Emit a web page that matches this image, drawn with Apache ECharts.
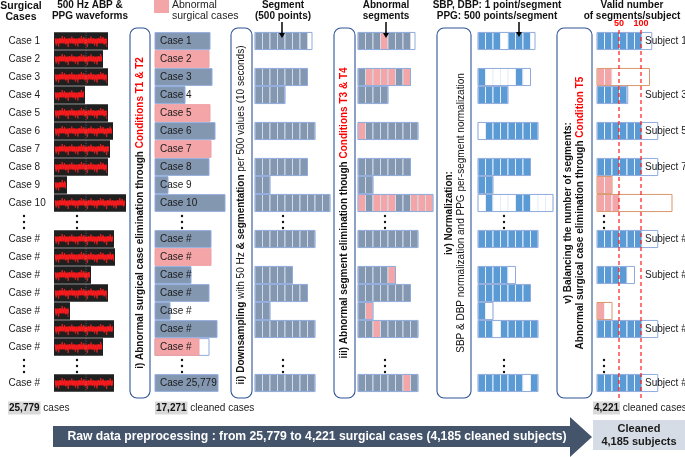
<!DOCTYPE html>
<html><head><meta charset="utf-8">
<script src="https://cdn.jsdelivr.net/npm/echarts@6/dist/echarts.min.js"></script>
<style>html,body{margin:0;padding:0;background:#fff}#c{width:685px;height:457px}</style>
</head><body><div id="c"></div>
<script>
// ---------------- DATA ----------------
// row index of each surgical case line (rows 10 and 18 hold the ellipses)
const caseRows = [0,1,2,3,4,5,6,7,8,9,11,12,13,14,15,16,17,19];
const caseNames = ['Case 1','Case 2','Case 3','Case 4','Case 5','Case 6','Case 7','Case 8','Case 9','Case 10',
  'Case #','Case #','Case #','Case #','Case #','Case #','Case #','Case #'];
// relative recording length of each raw waveform
const waveLength = [54,49,54,31,54,59,56,54,13,72,60,61,37,54,16,60,49,60];
// step i) screened cases
const screenNames = ['Case 1','Case 2','Case 3','Case 4','Case 5','Case 6','Case 7','Case 8','Case 9','Case 10',
  'Case #','Case #','Case #','Case #','Case #','Case #','Case #','Case 25,779'];
const screenLength = [55,54,57,30,55,60,56,54,13,70,56,56,36,54,15,62,44,63];
const screenCapacity = [55,54,57,30,55,60,56,54,13,70,56,56,36,54,15,62,54,63];
const screenAbnormal = [0,1,0,0,1,0,1,0,0,0,0,1,0,0,0,0,1,0];
// steps ii)-iv) segments
const segRows = [0,2,3,5,7,8,9,11,13,14,15,16,19];
const segCount = [7,7,4,8,7,2,10,8,5,7,2,8,8];
const segSpan = [7.6,7,4,8,7,2,10,8,5,7,2,8,8];
const segAbnormal = [[3],[1,2,3,4,6],[],[0],[],[],[0,2,3,4,7,8,9],[],[4],[],[1],[2],[6]];
// step v) valid segments per subject
const subjRows = [0,2,3,5,7,8,9,11,13,15,16,19];
const subjValid = [6,2,4,6,6,2,3,6,4,1,6,6];
const subjSpan = [7.3,7,4.1,8.1,8.1,2,10,8.1,5,2,8.1,8.1];
const subjAbnormal = [0,1,0,0,0,1,1,0,0,1,0,0];
const subjLabels = ['Subject 1','','Subject 3','Subject 5','Subject 7','','','Subject #','Subject #','','Subject #','Subject #'];
const thresholds = [50,100];
const ellipsisRows = [10,18];
// ---------------- STYLE ----------------
const FONT = '"Liberation Sans", Arial, sans-serif';
const PINK = '#f4a5a8', GREYBLUE = '#8497b0', BLUE = '#5b9bd5', EDGE = '#8faadc', ORANGE = '#d9966c', BOXLINE = '#2f5597';
const CELL = 7.5;
const SPIKE = [2.5,4.5,1.5,5.5,3,2,5,1.5,4,3.5,2,6,3,1.5,4.5,2.5];

function txt(x, y, text, o) {
  o = o || {};
  return {type:'text', x:x, y:y, z2:10, style:Object.assign({text:text, fill:'#1a1a1a', fontSize:10, fontFamily:FONT,
    align:o.align||'left', verticalAlign:o.va||'middle'}, o.style||{})};
}
function custom(data, renderItem, xi, yi) {
  return {type:'custom', data:data, renderItem:renderItem, xAxisIndex:xi||0, yAxisIndex:yi||0, silent:true, clip:false, animation:false};
}
function rowH(api, f){ return api.size([0,1])[1]*(f||0.95); }

// raw waveforms
function renderWave(params, api){
  const i = params.dataIndex, row = caseRows[i], len = waveLength[i];
  const a = api.coord([54,row]), b = api.coord([54+len,row]), h = rowH(api, 0.97);
  const ch = [{type:'rect', shape:{x:a[0], y:a[1]-h/2, width:b[0]-a[0], height:h}, style:{fill:'#1f1f1f'}}];
  ch.push({type:'rect', shape:{x:a[0]+1, y:a[1]-2.5, width:b[0]-a[0]-2, height:5}, style:{fill:'#e3161b'}});
  const pts=[]; let k=0;
  for (let x=a[0]+1; x<b[0]-1; x+=1.2, k++) pts.push([x, a[1]+(k%2?1:-1)*SPIKE[k%SPIKE.length]]);
  ch.push({type:'polyline', shape:{points:pts}, style:{stroke:'#ff2020', lineWidth:0.7, fill:null}});
  if (b[0] > 88) ch.push({type:'line', shape:{x1:86, y1:a[1]-h/2, x2:86, y2:a[1]+h/2}, style:{stroke:'#9a9a9a', lineWidth:0.6, lineDash:[1,1.5]}});
  return {type:'group', children:ch};
}
function renderCaseLabel(params, api){
  const i = params.dataIndex, p = api.coord([8.5, caseRows[i]]);
  return txt(p[0], p[1], caseNames[i]);
}
function renderScreen(params, api){
  const i = params.dataIndex, row = caseRows[i];
  const a = api.coord([155,row]), b = api.coord([155+screenLength[i],row]), c = api.coord([155+screenCapacity[i],row]);
  const h = rowH(api, 0.93), ab = screenAbnormal[i];
  const ch = [];
  if (c[0] > b[0]) ch.push({type:'rect', shape:{x:a[0], y:a[1]-h/2, width:c[0]-a[0], height:h}, style:{fill:'#fff', stroke:EDGE, lineWidth:1}});
  ch.push({type:'rect', shape:{x:a[0], y:a[1]-h/2, width:b[0]-a[0], height:h}, style:{fill:ab?PINK:GREYBLUE, stroke:ab?'#eea0a3':EDGE, lineWidth:1}});
  ch.push(txt(a[0]+5, a[1], screenNames[i]));
  return {type:'group', children:ch};
}
function makeSegRenderer(x0, mode){
  return function(params, api){
    const i = params.dataIndex, row = segRows[i], n = segCount[i];
    const a = api.coord([x0,row]), h = rowH(api, 0.95);
    const step = api.coord([x0+CELL,row])[0]-a[0];
    const ch = [];
    for (let k=0;k<n;k++){
      const bad = segAbnormal[i].indexOf(k) >= 0;
      let fill = mode==='raw' ? GREYBLUE : (mode==='abn' ? (bad?PINK:GREYBLUE) : (bad?'#fff':BLUE));
      ch.push({type:'rect', shape:{x:a[0]+k*step, y:a[1]-h/2, width:step, height:h},
        style:{fill:fill, stroke:mode==='norm'?'#e8eef8':'#d3dbe8', lineWidth:1}});
    }
    ch.push({type:'rect', shape:{x:a[0], y:a[1]-h/2, width:step*segSpan[i], height:h}, style:{fill:null, stroke:EDGE, lineWidth:1}});
    return {type:'group', children:ch};
  };
}
function renderSubject(params, api){
  const i = params.dataIndex, row = subjRows[i], n = subjValid[i], ab = subjAbnormal[i];
  const a = api.coord([597,row]), h = rowH(api, 0.95);
  const step = api.coord([597+CELL,row])[0]-a[0];
  const ch = [];
  for (let k=0;k<n;k++) ch.push({type:'rect', shape:{x:a[0]+k*step, y:a[1]-h/2, width:step, height:h},
    style:{fill:ab?PINK:BLUE, stroke:'#eef2f8', lineWidth:1}});
  ch.push({type:'rect', shape:{x:a[0], y:a[1]-h/2, width:step*subjSpan[i], height:h}, style:{fill:null, stroke:ab?ORANGE:EDGE, lineWidth:1}});
  if (subjLabels[i]) ch.push(txt(a[0]+48, a[1], subjLabels[i]));
  return {type:'group', children:ch};
}
const dotColumns = [24,77,182,283,385,504,604];
function renderDots(params, api){
  const row = ellipsisRows[params.dataIndex], ch = [];
  dotColumns.forEach(function(x){
    const p = api.coord([x,row]);
    [-6,0,6].forEach(function(d){ ch.push({type:'circle', shape:{cx:p[0], cy:p[1]+1+d, r:1.2}, style:{fill:'#111'}}); });
  });
  return {type:'group', children:ch};
}
function renderThreshold(params, api){
  const v = thresholds[params.dataIndex];
  const a = api.coord([v,30]), b = api.coord([v,400]), t = api.coord([v,24]);
  return {type:'group', children:[
    {type:'line', shape:{x1:a[0], y1:a[1], x2:b[0], y2:b[1]}, style:{stroke:'#ff1a1a', lineWidth:1.2, lineDash:[4,3]}},
    txt(t[0], t[1], String(v), {align:'center', style:{fill:'#ff0000', fontWeight:'bold', fontSize:9}})
  ]};
}

// ---------------- DECORATION ----------------
const g = [];
function hdr(x, y, text, size){ g.push({type:'text', x:x, y:y, style:{text:text, fill:'#111', fontSize:size||10, fontWeight:'bold', fontFamily:FONT, lineHeight:11, align:'center', verticalAlign:'top'}}); }
hdr(21, 1, 'Surgical\nCases', 10.5);
hdr(90, 0, '500 Hz ABP &\nPPG waveforms');
hdr(283, 0, 'Segment\n(500 points)');
hdr(386, 0, 'Abnormal\nsegments');
hdr(497, 0, 'SBP, DBP: 1 point/segment\nPPG: 500 points/segment');
hdr(632, 0, 'Valid number\nof segments/subject');
g.push({type:'rect', shape:{x:154, y:0, width:15, height:13}, style:{fill:PINK}});
g.push({type:'text', x:172, y:0, style:{text:'Abnormal\nsurgical cases', fill:'#222', fontSize:10.5, fontFamily:FONT, lineHeight:11, align:'left', verticalAlign:'top'}});
function arrow(x, y1, y2){
  g.push({type:'line', z:100, shape:{x1:x, y1:y1, x2:x, y2:y2-4}, style:{stroke:'#000', lineWidth:1.5}});
  g.push({type:'polygon', z:100, shape:{points:[[x-3,y2-5],[x+3,y2-5],[x,y2]]}, style:{fill:'#000'}});
}
arrow(282, 22, 38); arrow(386, 22, 38); arrow(519, 22, 37);
function rbox(x, w){ g.push({type:'rect', shape:{x:x, y:28, width:w, height:370, r:7}, style:{fill:'#fff', stroke:BOXLINE, lineWidth:1.1}, z:-1}); }
rbox(130,20); rbox(231,21); rbox(334,21); rbox(437,34); rbox(557,35);
const RICH = {
  b:{fontWeight:'bold', fontSize:10, fontFamily:FONT, fill:'#111'},
  n:{fontWeight:'normal', fontSize:10, fontFamily:FONT, fill:'#111'},
  r:{fontWeight:'bold', fontSize:10, fontFamily:FONT, fill:'#ff0000'}
};
function vtext(x, y, text){ g.push({type:'text', x:x, y:y, rotation:Math.PI/2, style:{text:text, rich:RICH, lineHeight:12, align:'center', verticalAlign:'middle', fontFamily:FONT, fontSize:10}}); }
vtext(140, 213, '{b|i) Abnormal surgical case elimination through }{r|Conditions T1 & T2}');
vtext(241, 215, '{b|ii) Downsampling }{n|with 50 Hz }{b|& segmentation }{n|per 500 values (10 seconds)}');
vtext(344, 213, '{b|iii) Abnormal segment elimination though }{r|Conditions T3 & T4}');
vtext(455, 213, '{b|iv) Normalization:}\n{n|SBP & DBP normalization and PPG per-segment normalization}');
vtext(574, 213, '{b|v) Balancing the number of segments:}\n{b|Abnormal surgical case elimination through }{r|Condition T5}');
function countText(x, num, rest){ g.push({type:'text', x:x, y:408, style:{text:'{g|'+num+'}'+rest, rich:{g:{fontWeight:'bold', fontSize:10, fontFamily:FONT, fill:'#111', backgroundColor:'#d9d9d9', padding:[2,1,1,1]}}, fontSize:10, fontFamily:FONT, fill:'#222', align:'left', verticalAlign:'middle'}}); }
countText(8, '25,779', ' cases');
countText(155, '17,271', ' cleaned cases');
countText(593, '4,221', ' cleaned cases');
g.push({type:'polygon', shape:{points:[[53,426],[570,426],[570,417],[592,437],[570,457],[570,447],[53,447]]}, style:{fill:'#44546a'}});
g.push({type:'text', x:317, y:437, style:{text:'Raw data preprocessing : from 25,779 to 4,221 surgical cases (4,185 cleaned subjects)', fill:'#fff', fontSize:12.2, fontWeight:'bold', fontFamily:FONT, align:'center', verticalAlign:'middle'}});
g.push({type:'rect', shape:{x:593, y:420, width:92, height:30}, style:{fill:'#d6dce5'}});
g.push({type:'text', x:639, y:435, style:{text:'Cleaned\n4,185 subjects', fill:'#1a1a1a', fontSize:11, fontWeight:'bold', fontFamily:FONT, lineHeight:13, align:'center', verticalAlign:'middle'}});

const chart = echarts.init(document.getElementById('c'), null, {renderer:'canvas'});
chart.setOption({
  animation:false,
  backgroundColor:'#fff',
  grid:{left:0, right:0, top:0, bottom:0},
  xAxis:[
    {type:'value', min:0, max:685, show:false},
    {type:'value', min:-597/0.44, max:(685-597)/0.44, show:false}
  ],
  yAxis:[
    {type:'value', min:-41/18, max:(457-41)/18, inverse:true, show:false},
    {type:'value', min:0, max:457, inverse:true, show:false}
  ],
  graphic:{elements:g},
  series:[
    custom(caseRows.map(function(r,i){return [54+waveLength[i], r];}), renderWave),
    custom(caseRows.map(function(r){return [8, r];}), renderCaseLabel),
    custom(caseRows.map(function(r,i){return [155+screenLength[i], r];}), renderScreen),
    custom(segRows.map(function(r,i){return [255+segCount[i]*CELL, r];}), makeSegRenderer(255,'raw')),
    custom(segRows.map(function(r,i){return [358+segCount[i]*CELL, r];}), makeSegRenderer(358,'abn')),
    custom(segRows.map(function(r,i){return [478+segCount[i]*CELL, r];}), makeSegRenderer(478,'norm')),
    custom(subjRows.map(function(r,i){return [597+subjValid[i]*CELL, r];}), renderSubject),
    custom(ellipsisRows.map(function(r){return [24, r];}), renderDots),
    custom(thresholds.map(function(v){return [v, 30];}), renderThreshold, 1, 1)
  ]
});
</script></body></html>
